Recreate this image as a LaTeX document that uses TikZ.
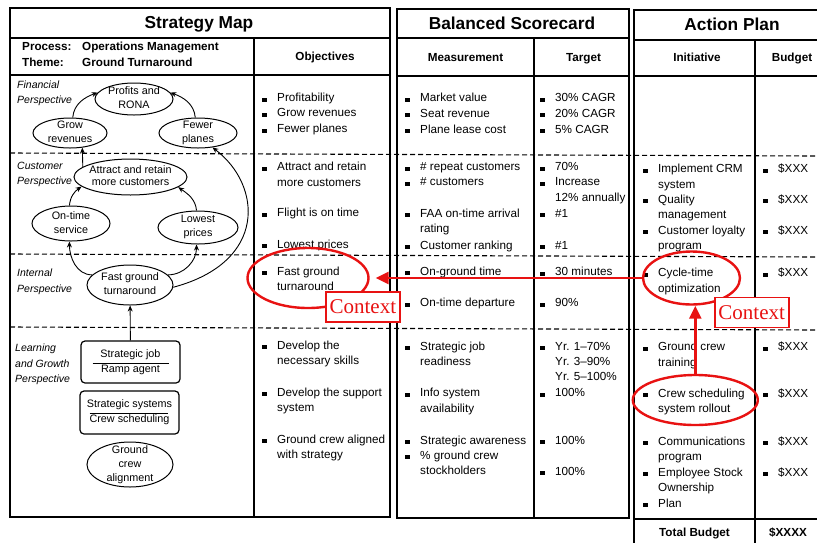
\documentclass[tikz,border=0pt]{standalone}
\usepackage{fontspec}
\setmainfont{Liberation Sans}
\newfontfamily\ctxfont{Liberation Serif}
\usetikzlibrary{shapes.geometric,arrows.meta}

\definecolor{ctxred}{RGB}{232,18,18}

% one table cell: lines stacked, baseline = first line
\newcommand\cellt[1]{\begin{tabular}[t]{@{}l@{}}#1\end{tabular}}
% square bullet followed by its gap
\newcommand\sq{\rule{4.5pt}{4pt}\hspace{10.5pt}}

\tikzset{
  panel/.style={line width=1.3pt},
  levelline/.style={line width=1.1pt, dash pattern=on 5pt off 3pt},
  paneltitle/.style={font=\fontsize{17.3}{20}\selectfont\bfseries, anchor=base, inner sep=0},
  colhead/.style={font=\fontsize{11.7}{14}\selectfont\bfseries, anchor=base, inner sep=0},
  item/.style={font=\fontsize{11.7}{15.4}\selectfont, anchor=base west, inner sep=0},
  persp/.style={font=\fontsize{10.5}{15.5}\selectfont\itshape, anchor=base west, inner sep=0},
  goal/.style={ellipse, draw, line width=1pt, inner xsep=-2pt, inner ysep=-4pt,
    align=center, font=\fontsize{10.8}{14}\selectfont, text depth=2.5pt},
  asset/.style={rectangle, rounded corners=4pt, draw, line width=1.2pt, inner sep=0,
    align=center, font=\fontsize{10.8}{15.3}\selectfont},
  link/.style={line width=0.9pt, -{Stealth[length=6pt,width=5pt]}},
  ring/.style={ellipse, draw=ctxred, line width=2.4pt, inner sep=0},
  ctxbox/.style={draw=ctxred, fill=white, line width=1.6pt, inner sep=0,
    minimum width=74pt, minimum height=30pt,
    font=\ctxfont\fontsize{21}{24}\selectfont, text=ctxred},
  pointer/.style={draw=ctxred, line width=2.6pt, -{Triangle[length=13pt,width=12pt]}},
}

\begin{document}
\begin{tikzpicture}[x=1pt,y=1pt]
\useasboundingbox (0,0) rectangle (817,-542);
\fill[white] (0,0) rectangle (817,-542);

% ---------- panel frames ----------
\draw[panel] (10,-8) rectangle (390,-517);
\draw[panel] (10,-38) -- (390,-38) (10,-75) -- (390,-75) (254,-38) -- (254,-517);
\draw[panel] (397,-9) rectangle (629,-518);
\draw[panel] (397,-38) -- (629,-38) (397,-76) -- (629,-76) (534,-38) -- (534,-518);
\draw[panel] (822,-10) -- (634,-10) -- (634,-545);
\draw[panel] (634,-40) -- (822,-40) (634,-76) -- (822,-76) (755,-40) -- (755,-545)
  (634,-519) -- (822,-519);

% ---------- perspective separators ----------
\draw[levelline] (10,-153) -- (817,-156);
\draw[levelline] (10,-254) -- (817,-257);
\draw[levelline] (10,-327) -- (817,-330);

% ---------- titles and column heads ----------
\node[paneltitle] (tmap) at (199,-28.3) {Strategy Map};
\node[paneltitle] (tbsc) at (512,-29.3) {Balanced Scorecard};
\node[paneltitle] (tact) at (732,-30) {Action Plan};

\node[colhead, anchor=base west] (proc) at (22,-50) {Process:};
\node[colhead, anchor=base west] (procv) at (82,-50) {Operations Management};
\node[colhead, anchor=base west] (theme) at (22,-66.7) {Theme:};
\node[colhead, anchor=base west] (themev) at (82,-66.7) {Ground Turnaround};
\node[colhead] (hobj) at (325,-60) {Objectives};
\node[colhead] (hmea) at (465.5,-61.7) {Measurement};
\node[colhead] (htar) at (583.5,-61.7) {Target};
\node[colhead] (hini) at (697,-61.7) {Initiative};
\node[colhead] (hbud) at (792,-61.7) {Budget};

% ---------- perspective labels ----------
\node[persp] (pfin) at (17,-88.3) {\cellt{Financial\\Perspective}};
\node[persp] (pcus) at (17,-169) {\cellt{Customer\\Perspective}};
\node[persp] (pint) at (17,-276.7) {\cellt{Internal\\Perspective}};
\node[persp] (plrn) at (15,-351.7) {\cellt{Learning\\and Growth\\Perspective}};

% ---------- strategy map ----------
\node[goal, minimum width=78pt, minimum height=32pt] (profits) at (134,-99) {Profits and\\RONA};
\node[goal, minimum width=74pt, minimum height=30pt] (grow) at (70,-133) {Grow\\revenues};
\node[goal, minimum width=78pt, minimum height=30pt] (fewer) at (198,-133) {Fewer\\planes};
\node[goal, minimum width=113pt, minimum height=36pt] (attract) at (130.5,-177) {Attract and retain\\[-1.4pt]more customers};
\node[goal, minimum width=78pt, minimum height=35pt] (ontime) at (71,-223.5) {On-time\\service};
\node[goal, minimum width=80pt, minimum height=33pt] (lowest) at (198,-227.5) {Lowest\\prices};
\node[goal, minimum width=86pt, minimum height=40pt] (fast) at (130,-285) {Fast ground\\turnaround};
\node[asset, minimum width=99pt, minimum height=42pt] (job) at (130.5,-362) {Strategic job\\Ramp agent};
\node[asset, minimum width=99pt, minimum height=43pt] (sys) at (129.5,-412.5) {Strategic systems\\Crew scheduling};
\node[goal, minimum width=86pt, minimum height=45pt] (crewalign) at (130,-464.5) {Ground\\crew\\alignment};

\draw[line width=1pt] ([xshift=-38pt,yshift=-1pt]job.center) -- ([xshift=38pt,yshift=-1pt]job.center);
\draw[line width=1pt] ([xshift=-40pt,yshift=-0.5pt]sys.center) -- ([xshift=38pt,yshift=-0.5pt]sys.center);

\draw[link] (grow.80) to[out=85,in=200] (profits.170);
\draw[link] (fewer.100) to[out=95,in=-20] (profits.10);
\draw[link] (attract.168) -- (grow.-50);
\draw[link] (ontime.95) to[out=85,in=215] (attract.191);
\draw[link] (lowest.95) to[out=95,in=-35] (attract.-12);
\draw[link] (fast.165) to[out=180,in=-90] (ontime.-95);
\draw[link] (fast.15) to[out=0,in=-90] (lowest.-95);
\draw[link] (fast.-3) .. controls (268,-262) and (262,-185) .. (fewer.-45);
\draw[link] (job) -- (fast);

% ---------- objectives ----------
\node[item] (o1) at (262,-101.7) {\sq\cellt{Profitability}};
\node[item] (o2) at (262,-116.7) {\sq\cellt{Grow revenues}};
\node[item] (o3) at (262,-132.7) {\sq\cellt{Fewer planes}};
\node[item] (o4) at (262,-170.7) {\sq\cellt{Attract and retain\\more customers}};
\node[item] (o5) at (262,-216.7) {\sq\cellt{Flight is on time}};
\node[item] (o6) at (262,-248.3) {\sq\cellt{Lowest prices}};
\node[item] (o7) at (262,-275) {\sq\cellt{Fast ground\\turnaround}};
\node[item] (o8) at (262,-349.3) {\sq\cellt{Develop the\\necessary skills}};
\node[item] (o9) at (262,-396) {\sq\cellt{Develop the support\\system}};
\node[item] (o10) at (262,-443.3) {\sq\cellt{Ground crew aligned\\with strategy}};

% ---------- measurements ----------
\node[item] (m1) at (405,-101.5) {\sq\cellt{Market value}};
\node[item] (m2) at (405,-117.3) {\sq\cellt{Seat revenue}};
\node[item] (m3) at (405,-133.3) {\sq\cellt{Plane lease cost}};
\node[item] (m4) at (405,-170.7) {\sq\cellt{\# repeat customers}};
\node[item] (m5) at (405,-185.7) {\sq\cellt{\# customers}};
\node[item] (m6) at (405,-217.3) {\sq\cellt{FAA on-time arrival\\rating}};
\node[item] (m7) at (405,-249) {\sq\cellt{Customer ranking}};
\node[item] (m8) at (405,-275) {\sq\cellt{On-ground time}};
\node[item] (m9) at (405,-306.7) {\sq\cellt{On-time departure}};
\node[item] (m10) at (405,-350) {\sq\cellt{Strategic job\\readiness}};
\node[item] (m11) at (405,-396.7) {\sq\cellt{Info system\\availability}};
\node[item] (m12) at (405,-444) {\sq\cellt{Strategic awareness}};
\node[item] (m13) at (405,-459.3) {\sq\cellt{\% ground crew\\stockholders}};

% ---------- targets ----------
\node[item] (t1) at (540,-101.5) {\sq\cellt{30\% CAGR}};
\node[item] (t2) at (540,-117.3) {\sq\cellt{20\% CAGR}};
\node[item] (t3) at (540,-133.3) {\sq\cellt{5\% CAGR}};
\node[item] (t4) at (540,-170.7) {\sq\cellt{70\%}};
\node[item] (t5) at (540,-185.7) {\sq\cellt{Increase\\12\% annually}};
\node[item] (t6) at (540,-217.3) {\sq\cellt{\#1}};
\node[item] (t7) at (540,-249) {\sq\cellt{\#1}};
\node[item] (t8) at (540,-275.5) {\sq\cellt{30 minutes}};
\node[item] (t9) at (540,-306.7) {\sq\cellt{90\%}};
\node[item] (t10) at (540,-350) {\sq\cellt{Yr. 1--70\%\\Yr. 3--90\%\\Yr. 5--100\%}};
\node[item] (t11) at (540,-396.7) {\sq\cellt{100\%}};
\node[item] (t12) at (540,-444) {\sq\cellt{100\%}};
\node[item] (t13) at (540,-475) {\sq\cellt{100\%}};

% ---------- initiatives ----------
\node[item] (i1) at (643,-172.7) {\sq\cellt{Implement CRM\\system}};
\node[item] (i2) at (643,-203.3) {\sq\cellt{Quality\\management}};
\node[item] (i3) at (643,-234) {\sq\cellt{Customer loyalty\\program}};
\node[item] (i4) at (643,-276.7) {\sq\cellt{Cycle-time\\optimization}};
\node[item] (i5) at (643,-350.7) {\sq\cellt{Ground crew\\training}};
\node[item] (i6) at (643,-397.3) {\sq\cellt{Crew scheduling\\system rollout}};
\node[item] (i7) at (643,-445) {\sq\cellt{Communications\\program}};
\node[item] (i8) at (643,-476) {\sq\cellt{Employee Stock\\Ownership}};
\node[item] (i9) at (643,-507.3) {\sq\cellt{Plan}};

% ---------- budgets ----------
\node[item] (b1) at (763,-172.7) {\sq\cellt{\$XXX}};
\node[item] (b2) at (763,-203.3) {\sq\cellt{\$XXX}};
\node[item] (b3) at (763,-234) {\sq\cellt{\$XXX}};
\node[item] (b4) at (763,-276.7) {\sq\cellt{\$XXX}};
\node[item] (b5) at (763,-350.7) {\sq\cellt{\$XXX}};
\node[item] (b6) at (763,-397.3) {\sq\cellt{\$XXX}};
\node[item] (b7) at (763,-445) {\sq\cellt{\$XXX}};
\node[item] (b8) at (763,-476) {\sq\cellt{\$XXX}};

\node[colhead] (total) at (694.5,-536.5) {Total Budget};
\node[colhead] (totalv) at (788,-536.5) {\$XXXX};

% ---------- context highlights ----------
\node[ring, minimum width=121pt, minimum height=60pt] (ringA) at (308,-278) {};
\node[ring, minimum width=97pt, minimum height=53pt] (ringB) at (691.5,-278) {};
\node[ring, minimum width=125pt, minimum height=50pt] (ringC) at (695.3,-400) {};

\draw[pointer, shorten >=6pt] (ringB.west) -- (ringA.east);
\draw[pointer] (ringC.north) -- (ringC.north |- ringB.south);

\node[ctxbox] (ctxA) at (362.9,-307) {Context};
\node[ctxbox] (ctxB) at (751.7,-312.5) {Context};
\end{tikzpicture}
\end{document}
